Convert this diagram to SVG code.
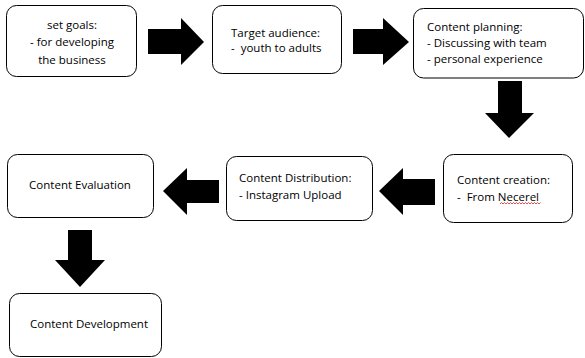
<svg xmlns="http://www.w3.org/2000/svg" width="585" height="358" viewBox="0 0 585 358">
  <style>
    .box { fill: #ffffff; stroke: #000000; stroke-width: 1; }
    .lbl { font-family: "Open Sans", "Noto Sans", "DejaVu Sans", sans-serif; font-size: 11.5px; fill: #000000; }
    .mid { text-anchor: middle; }
    .arrow { fill: #000000; }
  </style>
  <rect width="585" height="358" fill="#ffffff"/>

  <g id="set-goals">
    <rect class="box" x="6.5" y="5.5" width="130" height="71" rx="10"/>
    <text class="lbl mid" x="72" y="29">set goals:</text>
    <text class="lbl mid" x="72" y="46">- for developing</text>
    <text class="lbl mid" x="72" y="64">the business</text>
  </g>

  <g id="target-audience">
    <rect class="box" x="212.5" y="5.5" width="129" height="68" rx="10"/>
    <text class="lbl" x="231" y="37">Target audience:</text>
    <text class="lbl" x="231" y="52" xml:space="preserve">-  youth to adults</text>
  </g>

  <g id="content-planning">
    <rect class="box" x="413.5" y="8.5" width="170" height="69.5" rx="10"/>
    <text class="lbl" x="427" y="31">Content planning:</text>
    <text class="lbl" x="427" y="47">- Discussing with team</text>
    <text class="lbl" x="427" y="63">- personal experience</text>
  </g>

  <g id="content-creation">
    <rect class="box" x="443.5" y="154.5" width="129" height="68" rx="10"/>
    <text class="lbl" x="457" y="184">Content creation:</text>
    <text class="lbl" x="457" y="201" xml:space="preserve">-  From Necerel</text>
    <path d="M500 204 l1.5 -1.5 l1.5 1.5 l1.5 -1.5 l1.5 1.5 l1.5 -1.5 l1.5 1.5 l1.5 -1.5 l1.5 1.5 l1.5 -1.5 l1.5 1.5 l1.5 -1.5 l1.5 1.5 l1.5 -1.5 l1.5 1.5 l1.5 -1.5 l1.5 1.5 l1.5 -1.5 l1.5 1.5 l1.5 -1.5 l1.5 1.5 l1.5 -1.5 l1.5 1.5 l1.5 -1.5 l1.5 1.5 l1.5 -1.5 l1.5 1.5 l1.5 -1.5" fill="none" stroke="#e02020" stroke-width="0.8"/>
  </g>

  <g id="content-distribution">
    <rect class="box" x="226.5" y="156.5" width="146" height="64" rx="10"/>
    <text class="lbl" x="239" y="182">Content Distribution:</text>
    <text class="lbl" x="239" y="199">- Instagram Upload</text>
  </g>

  <g id="content-evaluation">
    <rect class="box" x="7.5" y="154.5" width="146" height="63" rx="10"/>
    <text class="lbl mid" x="80" y="189">Content Evaluation</text>
  </g>

  <g id="content-development">
    <rect class="box" x="9.5" y="293.5" width="152" height="63" rx="10"/>
    <text class="lbl mid" x="89" y="328">Content Development</text>
  </g>

  <g id="connectors">
    <polygon class="arrow" points="148,29 181,29 181,18 204,42 181,65 181,54 148,54"/>
    <polygon class="arrow" points="353,29 383,29 383,18 409,42 383,65 383,54 353,54"/>
    <polygon class="arrow" points="498,81 522,81 522,113 534,113 509,138 485,113 498,113"/>
    <polygon class="arrow" points="435,179 435,205 403,205 403,215 379,191 403,168 403,179"/>
    <polygon class="arrow" points="219,180 219,203 187,203 187,215 163,191 187,168 187,180"/>
    <polygon class="arrow" points="68,230 92,230 92,260 105,260 80,287 55,260 68,260"/>
  </g>
</svg>
